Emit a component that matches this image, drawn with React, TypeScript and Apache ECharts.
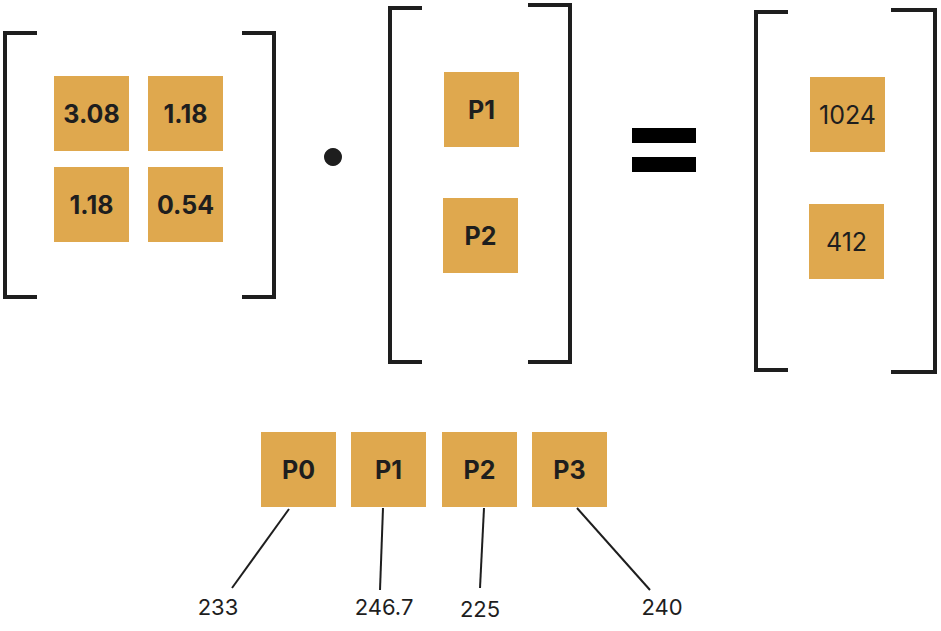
import { useEffect, useRef } from "react";
import * as echarts from "echarts";

const matrixValues = ["3.08", "1.18", "1.18", "0.54"];
const vectorLabels = ["P1", "P2"];
const resultValues = ["1024", "412"];
const nodeLabels = ["P0", "P1", "P2", "P3"];
const nodeValues = ["233", "246.7", "225", "240"];

const BOX = "#dfa84e";
const INK = "#1e1e1e";
const FONT = "Inter, 'Noto Sans', sans-serif";

function bracket(x: number, y1: number, y2: number, dir: 1 | -1, w = 32) {
  return {
    type: "polyline",
    shape: { points: [[x + dir * w, y1], [x, y1], [x, y2], [x + dir * w, y2]] },
    style: { stroke: INK, lineWidth: 4, fill: null },
  };
}

function box(x: number, y: number, label: string, bold = true, size = 25) {
  return {
    type: "group",
    x,
    y,
    children: [
      { type: "rect", shape: { x: 0, y: 0, width: 75, height: 75 }, style: { fill: BOX } },
      {
        type: "text",
        x: 37.5,
        y: 37.5,
        style: {
          text: label,
          fill: INK,
          font: `${bold ? "bold" : "normal"} ${size}px ${FONT}`,
          align: "center",
          verticalAlign: "middle",
        },
      },
    ],
  };
}

export default function App() {
  const ref = useRef<HTMLDivElement>(null);

  useEffect(() => {
    document.body.style.margin = "0";
    if (!ref.current) return;
    const chart = echarts.init(ref.current, null, { renderer: "svg" });
    const matrixPos = [[54, 76], [148, 76], [54, 167], [148, 167]];
    const vectorPos = [[444, 72], [443, 198]];
    const resultPos = [[810, 77], [809, 204]];
    const nodeX = [261, 351, 442, 532];
    const lineEnds = [[232, 588], [380, 590], [480, 588], [650, 590]];
    const lineStarts = [[289, 509], [383, 508], [484, 508], [577, 508]];
    const labelPos = [[218, 607], [384, 607], [480, 609], [662, 607]];

    const elements: any[] = [
      bracket(5, 33, 297, 1),
      bracket(274, 33, 297, -1),
      bracket(390, 8, 362, 1),
      bracket(570, 5, 362, -1, 42),
      bracket(756, 12, 370, 1),
      bracket(935, 10, 372, -1, 44),
      { type: "circle", shape: { cx: 333, cy: 157, r: 9 }, style: { fill: INK } },
      { type: "rect", shape: { x: 632, y: 128, width: 64, height: 15 }, style: { fill: "#000" } },
      { type: "rect", shape: { x: 632, y: 157, width: 64, height: 15 }, style: { fill: "#000" } },
    ];
    matrixValues.forEach((v, i) => elements.push(box(matrixPos[i][0], matrixPos[i][1], v)));
    vectorLabels.forEach((v, i) => elements.push(box(vectorPos[i][0], vectorPos[i][1], v)));
    resultValues.forEach((v, i) => elements.push(box(resultPos[i][0], resultPos[i][1], v, false)));
    nodeLabels.forEach((v, i) => {
      elements.push(box(nodeX[i], 432, v));
      elements.push({
        type: "line",
        shape: { x1: lineStarts[i][0], y1: lineStarts[i][1], x2: lineEnds[i][0], y2: lineEnds[i][1] },
        style: { stroke: INK, lineWidth: 2 },
      });
      elements.push({
        type: "text",
        x: labelPos[i][0],
        y: labelPos[i][1],
        style: {
          text: nodeValues[i],
          fill: INK,
          font: `22px ${FONT}`,
          align: "center",
          verticalAlign: "middle",
        },
      });
    });

    chart.setOption({ animation: false, backgroundColor: "#fff", graphic: { elements } });
    return () => chart.dispose();
  }, []);

  return <div ref={ref} style={{ width: 941, height: 631 }} />;
}
